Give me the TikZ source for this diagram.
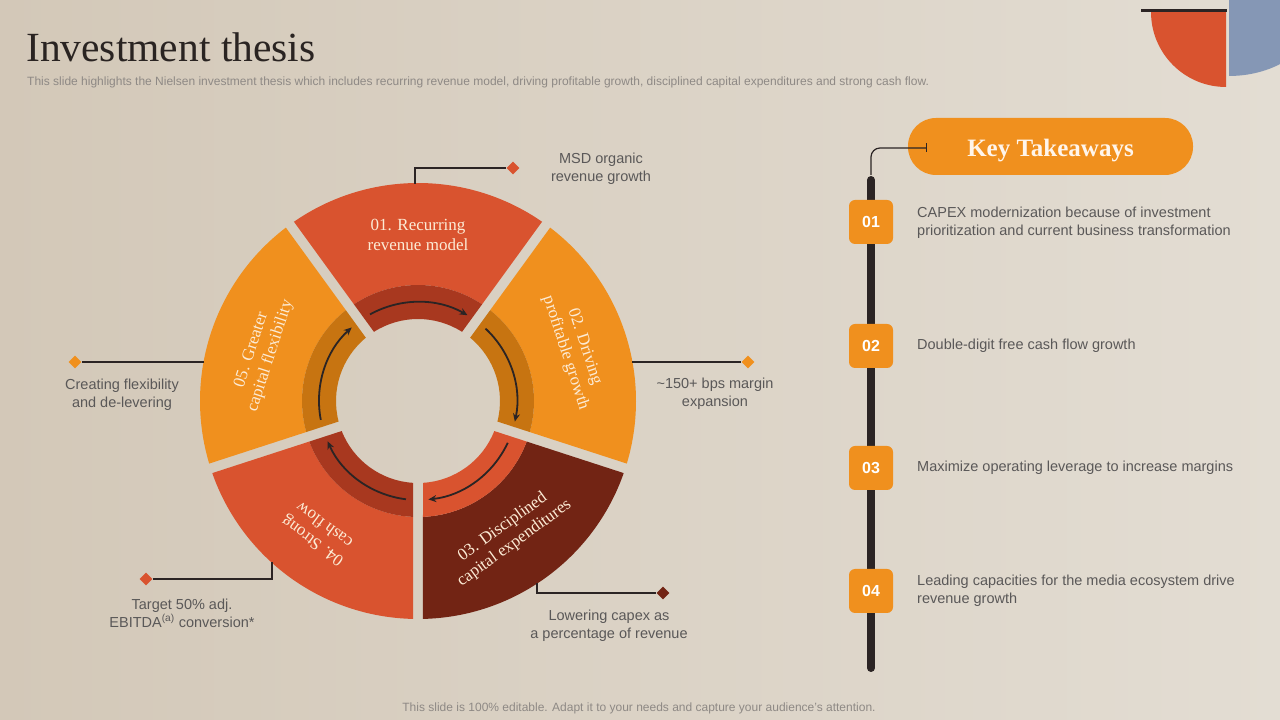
\documentclass[tikz,border=0pt]{standalone}
\usepackage{fontspec}
\setmainfont{Liberation Sans}
\newfontfamily\serifttl{Liberation Serif}
\usetikzlibrary{arrows.meta,shapes.geometric,calc}

\definecolor{bgL}{HTML}{D3C8B8}
\definecolor{bgR}{HTML}{E3DDD3}
\definecolor{cred}{HTML}{D9532F}
\definecolor{cdred}{HTML}{A8381F}
\definecolor{corange}{HTML}{F0901E}
\definecolor{cdorange}{HTML}{C77411}
\definecolor{cbrown}{HTML}{722414}
\definecolor{cblue}{HTML}{8597B5}
\definecolor{ink}{HTML}{2B2424}
\definecolor{txtgray}{HTML}{5A5858}
\definecolor{subgray}{HTML}{8E8985}
\definecolor{cream}{HTML}{FCEBD5}
\definecolor{ttl}{HTML}{2A2422}

\newcommand\ringseg[5]{%
  \pgfmathsetmacro\segoA{#1+asin(5/#4)}%
  \pgfmathsetmacro\segoB{#2-asin(5/#4)}%
  \pgfmathsetmacro\segiA{#1+asin(5/#3)}%
  \pgfmathsetmacro\segiB{#2-asin(5/#3)}%
  \fill[#5] (\segoA:#4) arc[start angle=\segoA, end angle=\segoB, radius=#4]
    -- (\segiB:#3) arc[start angle=\segiB, end angle=\segiA, radius=#3] -- cycle;
}

\tikzset{
  segtxt/.style={font=\serifttl\fontsize{17}{20}\selectfont, text=cream, align=center, inner sep=0},
  ringarrow/.style={draw=ink, line width=1.8pt, -{Stealth[length=8pt,width=7pt]}},
  diam/.style={diamond, minimum width=13pt, minimum height=13pt, inner sep=0, draw=none},
  callline/.style={draw=ink, line width=1.2pt},
  lbl/.style={font=\fontsize{14.5}{18}\selectfont, text=txtgray, align=center, inner sep=0},
  item/.style={font=\fontsize{14.5}{18}\selectfont, text=txtgray, align=left, inner sep=0, anchor=west},
  numbox/.style={fill=corange, rounded corners=6pt, minimum width=44pt, minimum height=44pt, inner sep=0,
    text=white, font=\bfseries\fontsize{16}{16}\selectfont},
  pill/.style={fill=corange, rounded corners=28pt, minimum width=285pt, minimum height=57pt, inner sep=0,
    text height=19.6pt, text depth=0pt,
    text={white!92!orange}, font=\serifttl\bfseries\fontsize{25}{28}\selectfont},
}

\begin{document}
\begin{tikzpicture}[x=1pt,y=1pt]
\useasboundingbox (0,0) rectangle (1280,720);
\shade[left color=bgL, right color=bgR] (0,0) rectangle (1280,720);

% top-right decoration
\fill[cblue] (1229,720) -- (1229,644) arc[start angle=270, end angle=360, x radius=95, y radius=76] -- cycle;
\fill[cred] (1226,708) -- (1151,708) arc[start angle=180, end angle=270, radius=75] -- cycle;
\draw[ink, line width=2.5pt] (1141,709.5) -- (1227,709.5);

% title
\node[anchor=base west, inner sep=0, font=\serifttl\fontsize{41.5}{41.5}\selectfont, text=ttl] (title) at (26,658) {Investment thesis};
\node[anchor=base west, inner sep=0, font=\fontsize{12}{13}\selectfont, text=subgray] (sub) at (27,634)
  {This slide highlights the Nielsen investment thesis which includes recurring revenue model, driving profitable growth, disciplined capital expenditures and strong cash flow.};
\node[anchor=base, inner sep=0, font=\fontsize{12}{13}\selectfont, text=subgray] (foot) at (639,8)
  {This slide is 100\% editable. Adapt it to your needs and capture your audience’s attention.};

% ring
\begin{scope}[shift={(418,319)}]
  \ringseg{54}{126}{116}{218}{cred}
  \ringseg{54}{126}{82}{116}{cdred}
  \ringseg{-18}{54}{116}{218}{corange}
  \ringseg{-18}{54}{82}{116}{cdorange}
  \ringseg{-90}{-18}{116}{218}{cbrown}
  \ringseg{-90}{-18}{82}{116}{cred}
  \ringseg{-162}{-90}{116}{218}{cred}
  \ringseg{-162}{-90}{82}{116}{cdred}
  \ringseg{126}{198}{116}{218}{corange}
  \ringseg{126}{198}{82}{116}{cdorange}
  \foreach \c in {90,18,-54,-126,162}
    \draw[ringarrow] ({\c+29}:99) arc[start angle={\c+29}, end angle={\c-30}, radius=99];
  \node[segtxt] (t1) at (90:166) {01. Recurring\\revenue model};
  \node[segtxt, rotate=-72] (t2) at (18:165) {02. Driving\\profitable growth};
  \node[segtxt, rotate=36] (t3) at (-56:162) {03. Disciplined\\capital expenditures};
  \node[segtxt, rotate=144] (t4) at (-127:166) {04. Strong\\cash flow};
  \node[segtxt, rotate=72] (t5) at (163:164) {05. Greater\\capital flexibility};
\end{scope}

% callouts
\coordinate (s1) at (415,536);
\coordinate (s2) at (632,358);
\coordinate (s3) at (537,137);
\coordinate (s4) at (272,158);
\coordinate (s5) at (204,358);
\node[diam, fill=cred] (d1) at (513,552) {};
\node[diam, fill=corange] (d2) at (748,358) {};
\node[diam, fill=cbrown] (d3) at (663,127) {};
\node[diam, fill=cred] (d4) at (146,141) {};
\node[diam, fill=corange] (d5) at (75,358) {};
\draw[callline] (s1) |- (d1.west);
\draw[callline] (s2) -- (d2.west);
\draw[callline] (s3) |- (d3.west);
\draw[callline] (s4) |- (d4.east);
\draw[callline] (s5) -- (d5.east);
\node[lbl] (l1) at (601,551) {MSD organic\\revenue growth};
\node[lbl] (l2) at (715,326) {\textasciitilde 150+ bps margin\\expansion};
\node[lbl] (l3) at (609,94) {Lowering capex as\\a percentage of revenue};
\node[lbl] (l4) at (182,107) {Target 50\% adj.\\EBITDA\textsuperscript{(a)} conversion*};
\node[lbl] (l5) at (122,325) {Creating flexibility\\and de-levering};

% key takeaways
\coordinate (tlt) at (871,540);
\coordinate (tlb) at (871,52);
\draw[ink, line width=8pt, line cap=round] (tlt) -- (tlb);
\node[pill] (kt) at (1050.5,573.5) {Key Takeaways};
\coordinate (tlc) at (871,545);
\coordinate (ktin) at (927,572);
\draw[ink, line width=1.2pt, rounded corners=9pt, -{Bar[width=9pt]}] (tlc) |- (ktin);

\node[numbox] (n1) at (871,498) {01};
\node[numbox] (n2) at (871,374) {02};
\node[numbox] (n3) at (871,252) {03};
\node[numbox] (n4) at (871,129) {04};
\node[item] (i1) at (917,497) {CAPEX modernization because of investment\\prioritization and current business transformation};
\node[item] (i2) at (917,374) {Double-digit free cash flow growth};
\node[item] (i3) at (917,252) {Maximize operating leverage to increase margins};
\node[item] (i4) at (917,129) {Leading capacities for the media ecosystem drive\\revenue growth};
\end{tikzpicture}
\end{document}
